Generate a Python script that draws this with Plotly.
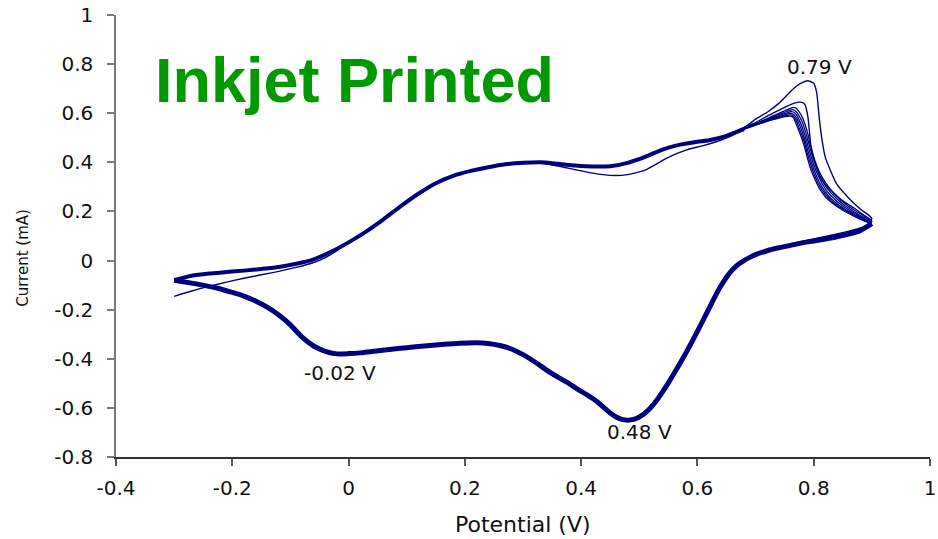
import plotly.graph_objects as go

# ---- cyclic voltammogram data (potential in V, current in mA) ----

# overlapping steady-state cycles: anodic sweep from -0.3 V up to the oxidation wave
V_FWD = [-0.30, -0.27, -0.24, -0.21, -0.18, -0.15, -0.12, -0.09, -0.06, -0.03,
         0.00, 0.03, 0.06, 0.09, 0.12, 0.15, 0.18, 0.21, 0.24, 0.27, 0.30, 0.33,
         0.36, 0.39, 0.42, 0.45, 0.48, 0.51, 0.54, 0.57, 0.60, 0.62, 0.65, 0.68]
I_FWD = [-0.080, -0.062, -0.053, -0.047, -0.041, -0.034, -0.026, -0.013, 0.005, 0.036,
         0.074, 0.118, 0.168, 0.222, 0.272, 0.315, 0.345, 0.365, 0.380, 0.392, 0.398, 0.400,
         0.394, 0.387, 0.383, 0.384, 0.398, 0.422, 0.452, 0.472, 0.484, 0.490, 0.508, 0.535]

# overlapping steady-state cycles: cathodic sweep from 0.9 V back to -0.3 V
V_REV = [0.90, 0.88, 0.86, 0.84, 0.82, 0.80, 0.78, 0.76, 0.74, 0.72, 0.70, 0.69,
         0.68, 0.67, 0.66, 0.65, 0.64, 0.63, 0.62, 0.61, 0.60, 0.59, 0.58, 0.57,
         0.56, 0.55, 0.54, 0.53, 0.52, 0.51, 0.50, 0.49, 0.48, 0.47, 0.46, 0.45,
         0.44, 0.43, 0.42, 0.41, 0.40, 0.39, 0.38, 0.36, 0.34, 0.32, 0.30, 0.28,
         0.26, 0.24, 0.22, 0.19, 0.16, 0.13, 0.10, 0.07, 0.04, 0.02, 0.00, -0.02,
         -0.04, -0.06, -0.08, -0.10, -0.12, -0.14, -0.16, -0.18, -0.20, -0.22, -0.24,
         -0.27, -0.30]
I_REV = [0.150, 0.122, 0.108, 0.097, 0.088, 0.080, 0.072, 0.062, 0.052, 0.040, 0.024, 0.013,
         0.000, -0.016, -0.038, -0.068, -0.105, -0.148, -0.195, -0.242, -0.288, -0.333, -0.377, -0.419,
         -0.459, -0.498, -0.535, -0.569, -0.598, -0.621, -0.637, -0.647, -0.650, -0.647, -0.637, -0.621,
         -0.601, -0.580, -0.562, -0.547, -0.533, -0.518, -0.502, -0.475, -0.445, -0.412, -0.383, -0.360,
         -0.346, -0.338, -0.335, -0.337, -0.342, -0.348, -0.355, -0.362, -0.370, -0.376, -0.379, -0.380,
         -0.370, -0.348, -0.312, -0.262, -0.222, -0.190, -0.165, -0.145, -0.130, -0.116, -0.105,
         -0.092, -0.080]

# first cycle: starts at -0.3 V and shows the largest oxidation peak
V_CYCLE1 = [-0.30, -0.27, -0.24, -0.21, -0.18, -0.15, -0.12, -0.09, -0.06, -0.04, -0.02,
            0.00, 0.03, 0.06, 0.09, 0.12, 0.15, 0.18, 0.21, 0.24, 0.27, 0.30, 0.33, 0.36,
            0.39, 0.42, 0.45, 0.48, 0.51, 0.55, 0.58, 0.61, 0.64, 0.67, 0.70, 0.72, 0.74,
            0.76, 0.77, 0.78, 0.79, 0.80, 0.805, 0.81, 0.815, 0.82, 0.83, 0.84, 0.86, 0.88,
            0.90, 0.89, 0.87, 0.84, 0.80, 0.76, 0.72]
I_CYCLE1 = [-0.146, -0.124, -0.105, -0.088, -0.072, -0.058, -0.044, -0.028, -0.008, 0.012, 0.040,
            0.072, 0.118, 0.166, 0.220, 0.270, 0.313, 0.343, 0.363, 0.378, 0.390, 0.396, 0.396, 0.385,
            0.370, 0.356, 0.347, 0.350, 0.368, 0.420, 0.450, 0.468, 0.490, 0.522, 0.576, 0.604, 0.640,
            0.688, 0.710, 0.725, 0.732, 0.722, 0.685, 0.570, 0.480, 0.420, 0.360, 0.310, 0.255, 0.210,
            0.172, 0.140, 0.126, 0.108, 0.088, 0.068, 0.045]

# second cycle around the oxidation peak
V_CYCLE2 = [0.62, 0.65, 0.68, 0.70, 0.72, 0.74, 0.75, 0.76, 0.77, 0.775, 0.78, 0.785,
            0.79, 0.795, 0.80, 0.805, 0.81, 0.82, 0.83, 0.85, 0.87, 0.89, 0.90, 0.88, 0.85, 0.80]
I_CYCLE2 = [0.490, 0.510, 0.542, 0.562, 0.588, 0.612, 0.624, 0.635, 0.643, 0.645, 0.644, 0.635,
            0.585, 0.470, 0.420, 0.380, 0.345, 0.310, 0.285, 0.243, 0.213, 0.178, 0.160, 0.126, 0.106, 0.083]

# later cycles around the oxidation peak (shared potential steps)
V_PEAK = [0.62, 0.65, 0.68, 0.70, 0.72, 0.74, 0.75, 0.76, 0.765, 0.77, 0.775, 0.78,
          0.785, 0.79, 0.795, 0.80, 0.81, 0.82, 0.83, 0.85, 0.87, 0.89, 0.90]
I_CYCLE3 = [0.490, 0.510, 0.540, 0.558, 0.578, 0.600, 0.610, 0.620, 0.624, 0.620, 0.605, 0.585,
            0.555, 0.515, 0.462, 0.420, 0.360, 0.318, 0.287, 0.238, 0.205, 0.178, 0.165]
I_CYCLE4 = [0.490, 0.509, 0.538, 0.556, 0.575, 0.595, 0.604, 0.613, 0.614, 0.606, 0.588, 0.565,
            0.532, 0.490, 0.448, 0.408, 0.350, 0.305, 0.275, 0.230, 0.198, 0.172, 0.160]
I_CYCLE5 = [0.490, 0.509, 0.537, 0.554, 0.572, 0.590, 0.598, 0.606, 0.605, 0.594, 0.572, 0.545,
            0.510, 0.468, 0.428, 0.390, 0.334, 0.292, 0.263, 0.222, 0.192, 0.167, 0.156]
I_CYCLE6 = [0.490, 0.508, 0.536, 0.553, 0.570, 0.586, 0.593, 0.599, 0.596, 0.582, 0.556, 0.527,
            0.490, 0.447, 0.408, 0.373, 0.318, 0.280, 0.252, 0.215, 0.187, 0.163, 0.152]
I_CYCLE7 = [0.490, 0.508, 0.535, 0.552, 0.568, 0.583, 0.589, 0.593, 0.589, 0.570, 0.540, 0.510,
            0.472, 0.428, 0.390, 0.357, 0.305, 0.270, 0.244, 0.210, 0.183, 0.160, 0.149]
I_CYCLE8 = [0.490, 0.508, 0.535, 0.551, 0.567, 0.580, 0.586, 0.588, 0.582, 0.555, 0.525, 0.494,
            0.455, 0.410, 0.372, 0.342, 0.293, 0.260, 0.237, 0.205, 0.180, 0.158, 0.147]

# peak labels: text, potential, current
PEAK_TEXT = ["0.79 V", "-0.02 V", "0.48 V"]
PEAK_X = [0.81, -0.014, 0.50]
PEAK_Y = [0.788, -0.458, -0.698]

X_TICKS = [-0.4, -0.2, 0, 0.2, 0.4, 0.6, 0.8, 1.0]
X_TICK_TEXT = ["-0.4", "-0.2", "0", "0.2", "0.4", "0.6", "0.8", "1"]
Y_TICKS = [-0.8, -0.6, -0.4, -0.2, 0, 0.2, 0.4, 0.6, 0.8, 1.0]
Y_TICK_TEXT = ["-0.8", "-0.6", "-0.4", "-0.2", "0", "0.2", "0.4", "0.6", "0.8", "1"]

NAVY = "#00007f"
TICK_FONT = dict(family="DejaVu Sans", size=20, color="#111111")

fig = go.Figure()


def add_line(x, y, width):
    fig.add_trace(go.Scatter(
        x=x, y=y, mode="lines", showlegend=False, hoverinfo="skip",
        line=dict(color=NAVY, width=width, shape="spline", smoothing=0.5),
    ))


# bundle of overlapping cycles
add_line(V_FWD, I_FWD, 4)
add_line(V_REV, I_REV, 5)
# individual cycles where they separate
add_line(V_CYCLE1, I_CYCLE1, 1.4)
add_line(V_CYCLE2, I_CYCLE2, 1.4)
for cyc in (I_CYCLE3, I_CYCLE4, I_CYCLE5, I_CYCLE6, I_CYCLE7, I_CYCLE8):
    add_line(V_PEAK, cyc, 1.3)

for txt, px, py in zip(PEAK_TEXT, PEAK_X, PEAK_Y):
    fig.add_annotation(x=px, y=py, xref="x", yref="y", text=txt, showarrow=False,
                       font=dict(family="DejaVu Sans", size=20, color="#111111"),
                       xanchor="center", yanchor="middle")

fig.add_annotation(text="Inkjet Printed", xref="paper", yref="paper", x=0.045, y=0.853,
                   xanchor="left", yanchor="middle", showarrow=False,
                   font=dict(family="Liberation Sans", size=63, color="#009900", weight="bold"))

fig.add_annotation(text="Current (mA)", xref="paper", yref="paper", x=-0.1146, y=0.45,
                   xanchor="center", yanchor="middle", textangle=-90, showarrow=False,
                   font=dict(family="DejaVu Sans", size=15, color="#111111"))

fig.add_annotation(text="Potential (V)", xref="paper", yref="paper", x=0.5, y=-0.152,
                   xanchor="center", yanchor="middle", showarrow=False,
                   font=dict(family="DejaVu Sans", size=22, color="#111111"))

fig.update_layout(
    width=938, height=539,
    margin=dict(l=116, r=2, t=15, b=82),
    paper_bgcolor="white", plot_bgcolor="white",
    xaxis=dict(range=[-0.4, 1.0], tickvals=X_TICKS, ticktext=X_TICK_TEXT,
               showgrid=False, zeroline=False, showline=True, linecolor="#333333", linewidth=1.5,
               ticks="outside", ticklen=7, tickcolor="#555555", tickwidth=1.5,
               tickfont=TICK_FONT, ticklabelstandoff=5, ticklabeloverflow="allow"),
    yaxis=dict(range=[-0.8, 1.0], tickvals=Y_TICKS, ticktext=Y_TICK_TEXT,
               showgrid=False, zeroline=False, showline=True, linecolor="#7a7a7a", linewidth=1.5,
               ticks="outside", ticklen=7, tickcolor="#7a7a7a", tickwidth=1.5,
               tickfont=TICK_FONT, ticklabelstandoff=10),
)

fig.write_html("out.html")
